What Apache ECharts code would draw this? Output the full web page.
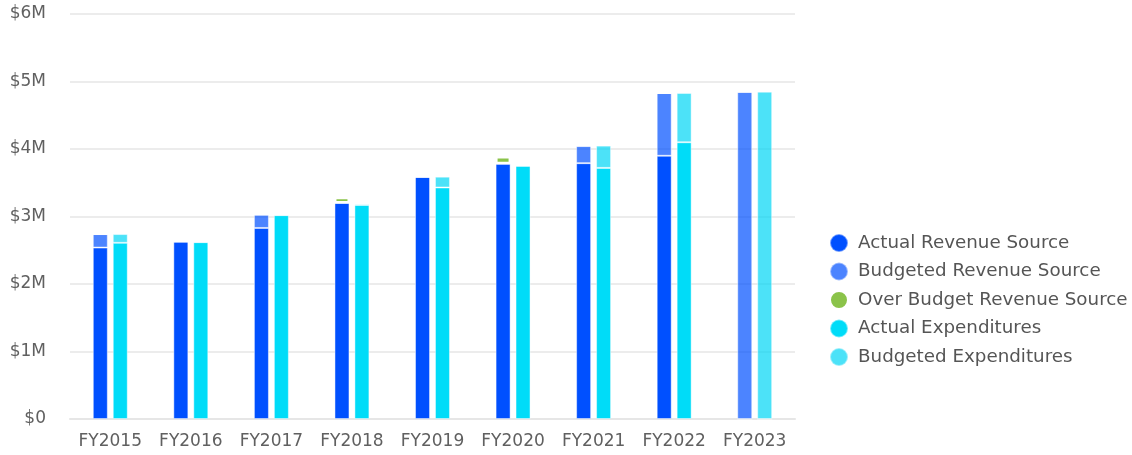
<!DOCTYPE html>
<html>
<head>
<meta charset="utf-8">
<script src="https://cdn.jsdelivr.net/npm/echarts@6/dist/echarts.min.js"></script>
<style>
html,body{margin:0;padding:0;background:#fff;}
#chart{width:1132px;height:455px;}
</style>
</head>
<body>
<div id="chart"></div>
<script>
const categories = ['FY2015','FY2016','FY2017','FY2018','FY2019','FY2020','FY2021','FY2022','FY2023'];
const yTicks = [0, 1, 2, 3, 4, 5, 6];
// values in $M
const actualRevenue      = [2.54, 2.63, 2.83, 3.20, 3.59, 3.78, 3.79, 3.90, 0];
const budgetedRevenue    = [0.20, 0,    0.20, 0,    0,    0,    0.26, 0.93, 4.85];
const overBudgetRevenue  = [0,    0,    0,    0.085, 0,   0.11, 0,    0,    0];
const actualExpenditure  = [2.61, 2.62, 3.02, 3.17, 3.43, 3.75, 3.72, 4.10, 0];
const budgetedExpenditure= [0.13, 0.01, 0.01, 0.02, 0.16, 0.01, 0.33, 0.73, 4.85];

const FONT = '"DejaVu Sans", sans-serif';
const border = {borderColor:'rgba(255,255,255,0.45)', borderWidth:1};

const chart = echarts.init(document.getElementById('chart'), null, {renderer:'canvas'});
chart.setOption({
  animation:false,
  grid:{left:70, right:337, top:14, bottom:36, containLabel:false},
  legend:{
    orient:'vertical', left:824, top:228,
    icon:'circle', itemWidth:18, itemHeight:18, itemGap:8.5,
    textStyle:{fontFamily:FONT, fontSize:18.3, lineHeight:18, color:'#555', padding:[0,0,0,5]},
    data:['Actual Revenue Source','Budgeted Revenue Source','Over Budget Revenue Source','Actual Expenditures','Budgeted Expenditures']
  },
  xAxis:{
    type:'category', data:categories,
    axisLine:{lineStyle:{color:'#e6e6e6', width:2}},
    axisTick:{show:false},
    axisLabel:{fontFamily:FONT, fontSize:17, color:'#606060', margin:14, interval:0}
  },
  yAxis:{
    type:'value', min:yTicks[0], max:yTicks[yTicks.length-1], interval:1,
    axisLine:{show:false}, axisTick:{show:false},
    splitLine:{lineStyle:{color:'#e6e6e6', width:1.5}},
    axisLabel:{fontFamily:FONT, fontSize:17, color:'#606060', margin:24,
      formatter:v => v === 0 ? '$0' : '$' + v + 'M'}
  },
  series:[
    {name:'Actual Revenue Source', type:'bar', stack:'rev', barWidth:15, barGap:'33%',
      itemStyle:Object.assign({color:'#0050ff'}, border), data:actualRevenue},
    {name:'Budgeted Revenue Source', type:'bar', stack:'rev', barWidth:15,
      itemStyle:Object.assign({color:'rgba(0,80,255,0.7)'}, border), data:budgetedRevenue},
    {name:'Over Budget Revenue Source', type:'bar', stack:'rev', barWidth:15,
      itemStyle:{color:'#8bc34a', borderColor:'#fff', borderWidth:2}, data:overBudgetRevenue},
    {name:'Actual Expenditures', type:'bar', stack:'exp', barWidth:15, barGap:'33%',
      itemStyle:Object.assign({color:'#00dcf8'}, border), data:actualExpenditure},
    {name:'Budgeted Expenditures', type:'bar', stack:'exp', barWidth:15,
      itemStyle:Object.assign({color:'rgba(0,214,245,0.7)'}, border), data:budgetedExpenditure}
  ]
});
</script>
</body>
</html>
